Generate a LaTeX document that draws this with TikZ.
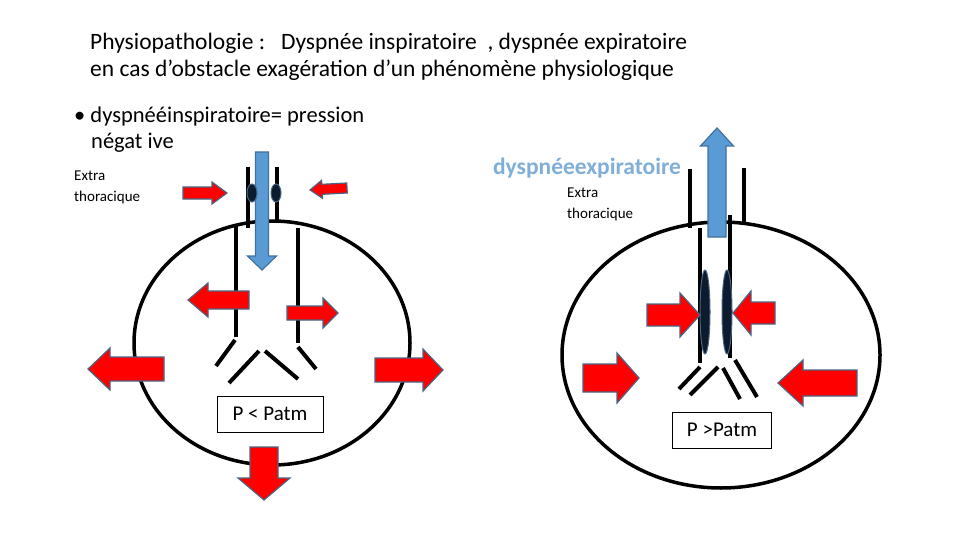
\documentclass[tikz,border=0pt]{standalone}
\usepackage{fontspec}
\setmainfont{Carlito}
\definecolor{ared}{HTML}{FF0000}
\definecolor{aedge}{HTML}{4A6583}
\definecolor{ablue}{HTML}{5B9BD5}
\definecolor{bedge}{HTML}{41719C}
\definecolor{ttl}{HTML}{7FAFD8}
\definecolor{oval}{HTML}{0D1B2E}
\newcommand\blk[9]{\begin{scope}[shift={(#1,#2)},rotate=#3]
\draw[fill=#8,draw=#9,line width=1.2pt] (0,-#5)--(#4-#7,-#5)--(#4-#7,-#6)--(#4,0)--(#4-#7,#6)--(#4-#7,#5)--(0,#5)--cycle;
\end{scope}}
\tikzset{tube/.style={line width=4pt},
 chest/.style={line width=3.5pt},
 lbl/.style={font=\fontsize{15}{18}\selectfont, align=left, anchor=north west, inner sep=0},
 pbox/.style={draw, line width=1pt, font=\fontsize{21}{23}\selectfont, minimum width=106pt, minimum height=36pt, inner sep=0},
 ov/.style={fill=oval, draw=aedge, line width=1pt}}
\begin{document}
\begin{tikzpicture}[x=1pt,y=-1pt]
\useasboundingbox (0,0) rectangle (960,540);
% title
\node[anchor=north west, inner sep=0, align=left, font=\fontsize{23.5}{27}\selectfont] (title) at (90,33)
 {Physiopathologie :\ \ \ Dyspnée inspiratoire\ \ , dyspnée expiratoire\\en cas d’obstacle exagération d’un phénomène physiologique};
\node[anchor=north west, inner sep=0, align=left, font=\fontsize{22.5}{26}\selectfont] (bul) at (74,107)
 {• dyspnééinspiratoire= pression\\\hspace*{17pt}négat ive};
% ---------- left ----------
\node[lbl] (ex1) at (74,171) {Extra\\[3pt]thoracique};
\draw[chest] (272,343) ellipse[x radius=138, y radius=122];
\draw[tube] (248,167)--(248,228); \draw[tube] (277,167)--(277,222);
\draw[tube] (236,225)--(236,337); \draw[tube] (298,228)--(298,343);
\draw[tube] (235,340)--(216,366); \draw[tube] (259,351)--(229,383);
\draw[tube] (265,351)--(298,379); \draw[tube] (298,347)--(316,369);
\blk{262}{152}{-90}{118}{6.5}{14.5}{14}{ablue}{bedge}
\draw[ov] (252,193) ellipse[x radius=5, y radius=9];
\draw[ov] (276,193) ellipse[x radius=5, y radius=9];
\blk{183}{193}{0}{44}{6}{11}{15}{ared}{aedge}
\blk{347}{188}{183}{37}{5}{9}{12}{ared}{aedge}
\blk{249}{300}{180}{61}{9}{17}{20}{ared}{aedge}
\blk{287}{313}{0}{51}{7}{15}{15}{ared}{aedge}
\blk{164}{369}{180}{76}{12}{21}{22}{ared}{aedge}
\blk{375}{370}{0}{68}{12}{21}{20}{ared}{aedge}
\blk{264}{447}{-90}{53}{14}{26}{22}{ared}{aedge}
\node[pbox, fill=white] (p1) at (270,414) {P < Patm};
% ---------- right ----------
\node[font=\bfseries\fontsize{23.5}{25}\selectfont, text=ttl] (dex) at (587,168) {dyspnéeexpiratoire};
\node[lbl] (ex2) at (567,188) {Extra\\[3pt]thoracique};
\draw[chest] (721,355) ellipse[x radius=159, y radius=133];
\draw[tube] (690,169)--(690,228); \draw[tube] (744,168)--(744,222);
\draw[tube] (700,228)--(700,363); \draw[tube] (730,215)--(730,358);
\draw[tube] (700,367)--(679,389); \draw[tube] (718,367)--(690,395);
\draw[tube] (723,368)--(740,399); \draw[tube] (735,360)--(757,397);
\blk{717}{237}{90}{109}{9}{16.5}{18}{ablue}{bedge}
\draw[ov] (705,312) ellipse[x radius=5, y radius=42];
\draw[ov] (727,312) ellipse[x radius=5, y radius=42];
\blk{647}{315}{0}{53}{11}{22}{20}{ared}{aedge}
\blk{775}{313}{180}{42}{11}{22}{18}{ared}{aedge}
\blk{583}{378}{0}{56}{14}{25}{22}{ared}{aedge}
\blk{857}{383}{180}{79}{13}{23}{25}{ared}{aedge}
\node[pbox, minimum width=99pt, fill=white] (p2) at (722,430) {P >Patm};
\end{tikzpicture}
\end{document}
